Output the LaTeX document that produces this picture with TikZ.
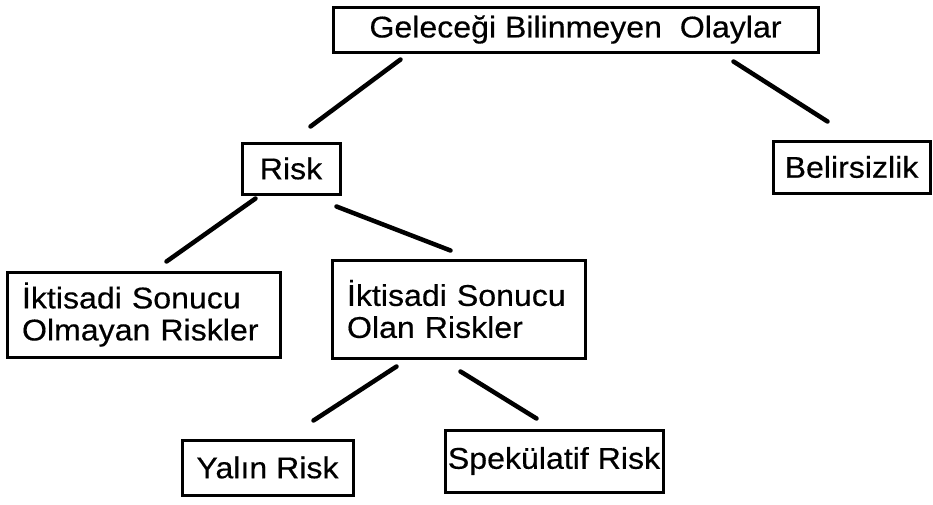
\documentclass[tikz,border=0pt]{standalone}
\usepackage{fontspec}
\setmainfont{Liberation Sans}[FakeStretch=1.07,FakeBold=0.4]
\begin{document}
\begin{tikzpicture}[x=1pt,y=-1pt,
  box/.style={draw,line width=3pt,rectangle,inner sep=0pt,font=\fontsize{30}{32}\selectfont},
  twoline/.style={box,align=left,text width=#1,inner xsep=15pt},
  link/.style={line width=4.5pt,line cap=round}]
\useasboundingbox (0,0) rectangle (933,504);
\fill[white] (0,0) rectangle (933,504);
\node[box,minimum width=485pt,minimum height=45pt] (top) at (575.5,29.5) {Geleceği Bilinmeyen\ \ Olaylar};
\node[box,minimum width=98pt,minimum height=51pt] (risk) at (291,168.5) {Risk};
\node[box,minimum width=157pt,minimum height=52pt] (bel) at (851.5,167) {Belirsizlik};
\node[twoline=243pt,minimum height=85pt] (left) at (143.5,314.5) {İktisadi Sonucu\\Olmayan Riskler};
\node[twoline=223pt,minimum height=98pt] (mid) at (458.5,309) {İktisadi Sonucu\\Olan Riskler};
\node[box,minimum width=171pt,minimum height=55pt] (yalin) at (267.5,467.5) {Yalın Risk};
\node[box,minimum width=218pt,minimum height=62pt] (spek) at (554,461) {Spekülatif Risk};
\draw[link] ([shift={(69,6)}]top.south west) -- ([shift={(70,-15)}]risk.north west);
\draw[link] ([shift={(-86,8)}]top.south east) -- ([shift={(56,-18)}]bel.north west);
\draw[link] ([shift={(15,3)}]risk.south west) -- ([shift={(161,-9)}]left.north west);
\draw[link] ([shift={(-5,11)}]risk.south east) -- ([shift={(120,-8)}]mid.north west);
\draw[link] ([shift={(66,7)}]mid.south west) -- ([shift={(133,-18)}]yalin.north west);
\draw[link] ([shift={(130,12)}]mid.south west) -- ([shift={(93,-10)}]spek.north west);
\end{tikzpicture}
\end{document}
